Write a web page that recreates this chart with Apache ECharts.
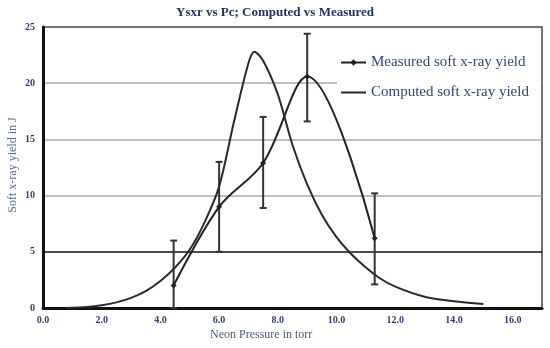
<!DOCTYPE html>
<html><head><meta charset="utf-8">
<script src="https://cdn.jsdelivr.net/npm/echarts@6/dist/echarts.min.js"></script>
<style>html,body{margin:0;padding:0;background:#fff}#c{width:550px;height:348px}</style>
</head><body><div id="c"></div>
<script>
var titleText = 'Ysxr vs Pc; Computed vs Measured';
var xName = 'Neon Pressure in torr';
var yName = 'Soft x-ray yield in J';
var measuredName = 'Measured soft x-ray yield';
var computedName = 'Computed soft x-ray yield';

var measuredX = [4.45, 6.0, 7.5, 9.0, 11.3];
var measuredY = [2.0, 9.0, 12.9, 20.6, 6.2];
var errLow = [0.0, 5.0, 8.9, 16.6, 2.1];
var errHigh = [6.0, 13.0, 17.0, 24.4, 10.2];

var computedX = [0.8, 1.5, 2.0, 2.5, 3.0, 3.5, 4.0, 4.5, 5.0, 5.5, 6.0, 6.5, 7.0, 7.2, 7.5, 8.0, 8.5, 9.0, 9.5, 10.0, 10.5, 11.0, 11.5, 12.0, 13.0, 14.0, 15.0];
var computedY = [0.0, 0.1, 0.25, 0.5, 0.9, 1.5, 2.4, 3.6, 5.2, 7.6, 10.8, 16.5, 21.8, 22.8, 22.0, 19.0, 14.5, 11.0, 8.3, 6.3, 4.8, 3.6, 2.6, 1.9, 1.0, 0.6, 0.35];

var measuredData = measuredX.map(function (x, i) { return [x, measuredY[i]]; });
var computedData = computedX.map(function (x, i) { return [x, computedY[i]]; });
var errData = measuredX.map(function (x, i) { return [x, errLow[i], errHigh[i]]; });

var serif = '"Liberation Serif", "DejaVu Serif", serif';
var chart = echarts.init(document.getElementById('c'));
chart.setOption({
  animation: false,
  backgroundColor: '#fff',
  title: {
    text: titleText, left: 'center', top: 1,
    textStyle: { fontFamily: serif, fontSize: 13, fontWeight: 'bold', color: '#1f3560' }
  },
  graphic: [{
    type: 'text', left: 262 - 52, top: 329, z: 10,
    style: { text: xName, fontFamily: serif, fontSize: 12, fill: '#4a5a7a' }
  }, {
    type: 'text', x: 13, y: 165, rotation: Math.PI / 2, z: 10,
    style: { text: yName, fontFamily: serif, fontSize: 12, fill: '#5a6a8a', align: 'center', verticalAlign: 'middle' }
  }],
  legend: {
    orient: 'vertical', left: 337, top: 47,
    backgroundColor: '#fff', padding: [8, 12, 16, 3],
    itemWidth: 25, itemHeight: 8, itemGap: 15,
    textStyle: { fontFamily: serif, fontSize: 15, color: '#2b4a7a' },
    data: [
      { name: measuredName },
      { name: computedName, itemStyle: { color: 'transparent', borderWidth: 0 } }
    ]
  },
  grid: { left: 43, right: 8, top: 27, bottom: 40, show: true, borderColor: '#444', borderWidth: 1.5, outerBoundsMode: 'none', containLabel: false },
  xAxis: {
    type: 'value', min: 0, max: 17, interval: 2,
    axisLine: { lineStyle: { color: '#111', width: 3 } },
    axisTick: { show: false },
    splitLine: { show: false },
    axisLabel: {
      fontFamily: serif, fontSize: 10, fontWeight: 'bold', color: '#3a3a70', margin: 7,
      formatter: function (v) { return v > 16 ? '' : v.toFixed(1); }
    }
  },
  yAxis: {
    type: 'value', min: 0, max: 25, interval: 5,
    axisLine: { lineStyle: { color: '#111', width: 3 } },
    axisTick: { show: false },
    axisLabel: { fontFamily: serif, fontSize: 10, fontWeight: 'bold', color: '#3a3a70', margin: 8 },
    splitLine: { show: true, lineStyle: { color: ['transparent', '#111', '#aaa', '#aaa', '#aaa', 'transparent'], width: 1.6 } }
  },
  series: [
    {
      name: 'err', type: 'custom', z: 3,
      data: errData,
      renderItem: function (params, api) {
        var x = api.value(0);
        var lo = api.coord([x, api.value(1)]);
        var hi = api.coord([x, api.value(2)]);
        var cw = 3.5;
        var st = { stroke: '#333', lineWidth: 2 };
        return {
          type: 'group',
          children: [
            { type: 'line', shape: { x1: lo[0], y1: lo[1], x2: hi[0], y2: hi[1] }, style: st },
            { type: 'line', shape: { x1: hi[0] - cw, y1: hi[1], x2: hi[0] + cw, y2: hi[1] }, style: st },
            { type: 'line', shape: { x1: lo[0] - cw, y1: lo[1], x2: lo[0] + cw, y2: lo[1] }, style: st }
          ]
        };
      }
    },
    {
      name: measuredName, type: 'line', smooth: 0.35, data: measuredData, z: 4,
      symbol: 'diamond', symbolSize: 6,
      lineStyle: { color: '#222', width: 2 },
      itemStyle: { color: '#222' }
    },
    {
      name: computedName, type: 'line', smooth: 0.3, data: computedData, z: 4,
      symbol: 'none', showSymbol: false,
      lineStyle: { color: '#2a2a2a', width: 2 },
      itemStyle: { color: '#444' }
    }
  ]
});
</script>
</body></html>
